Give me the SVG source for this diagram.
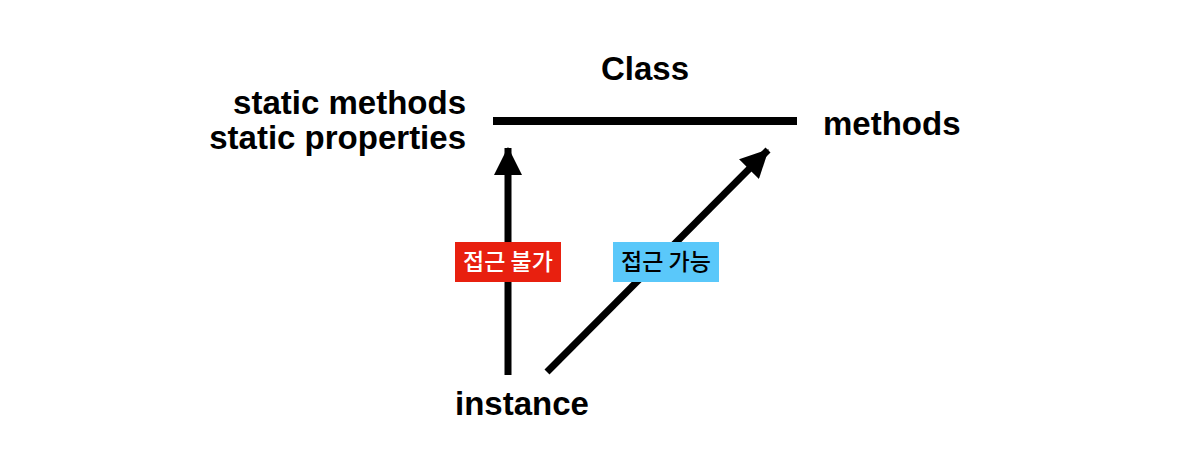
<svg xmlns="http://www.w3.org/2000/svg" width="1200" height="451" viewBox="0 0 1200 451">
<defs>
<style>
.lbl{font-family:"Liberation Sans",Arial,sans-serif;font-weight:bold;font-size:33px;fill:#000}
.ko{font-family:"Noto Sans CJK KR","Noto Sans",sans-serif;font-size:23px;font-weight:500;text-anchor:middle}
.ln{stroke:#000;stroke-width:7;fill:none}
</style>
<marker id="ah" markerUnits="userSpaceOnUse" markerWidth="28" markerHeight="28" viewBox="0 0 26 26" refX="25" refY="13" orient="auto">
<path d="M0,0 L26,13 L0,26 Z" fill="#000"/>
</marker>
</defs>
<rect width="1200" height="451" fill="#fff"/>
<g id="class-node">
<text class="lbl" x="645" y="80" text-anchor="middle">Class</text>
<line x1="493" y1="121" x2="797" y2="121" stroke="#000" stroke-width="8"/>
</g>
<g id="static-node">
<text class="lbl" x="466" y="114" text-anchor="end">static methods</text>
<text class="lbl" x="466" y="149" text-anchor="end">static properties</text>
</g>
<g id="methods-node">
<text class="lbl" x="823" y="135">methods</text>
</g>
<g id="instance-node">
<text class="lbl" x="455" y="415">instance</text>
</g>
<g id="connectors">
<line class="ln" x1="508" y1="375" x2="508" y2="148" marker-end="url(#ah)"/>
<line class="ln" x1="547" y1="372" x2="768" y2="150" marker-end="url(#ah)"/>
</g>
<g id="label-denied">
<rect x="455" y="242" width="106" height="40" fill="#e8200f"/>
<text class="ko" x="508" y="270" fill="#fff">접근 불가</text>
</g>
<g id="label-allowed">
<rect x="613" y="242" width="106" height="40" fill="#5ac8fa"/>
<text class="ko" x="666" y="270" fill="#000">접근 가능</text>
</g>
</svg>
